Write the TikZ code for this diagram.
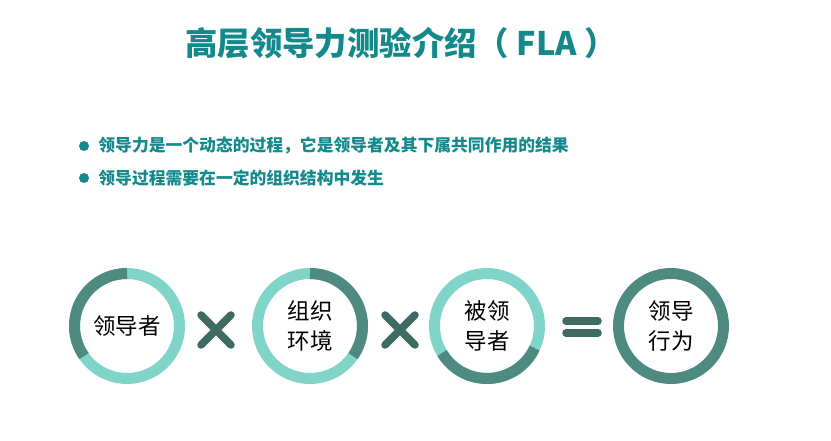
\documentclass[tikz,border=0pt]{standalone}
\usepackage{fontspec}
\setmainfont{Noto Sans CJK SC}
\usepackage{xcolor}
\usetikzlibrary{positioning}

\definecolor{titleteal}{HTML}{13898C}
\definecolor{ringlight}{HTML}{80D4C8}
\definecolor{ringdark}{HTML}{4E8A80}
\definecolor{markdark}{HTML}{3F6B62}

\begin{document}
\begin{tikzpicture}[
        x=1pt, y=1pt,
        title node/.style={font=\fontsize{32.4}{38}\selectfont\bfseries, text=titleteal, inner sep=0pt},
        point node/.style={font=\fontsize{16.8}{20}\selectfont\bfseries, text=titleteal, anchor=west, inner sep=0pt},
        dot/.style={circle, fill=titleteal, inner sep=0pt, minimum size=10},
        ring node/.style={circle, minimum size=94, inner sep=0pt, align=center,
                          font=\fontsize{22.5}{30}\selectfont},
        light arc/.style={draw=ringlight, line width=11},
        dark arc/.style={draw=ringdark, line width=11},
        op stroke/.style={draw=markdark, line width=7.5, line cap=round}
      ]
      \useasboundingbox (0,0) rectangle (831,441);

      % Title and points
      \node[title node] (title) at (401,398) {高层领导力测验介绍（ FLA ）};
      \node[dot] (b1) at (84,295) {};
      \node[dot] (b2) at (84,263) {};
      \node[point node, right=9pt of b1] (p1) {领导力是一个动态的过程，它是领导者及其下属共同作用的结果};
      \node[point node, right=9pt of b2] (p2) {领导过程需要在一定的组织结构中发生};

      % Nodes
      \node[ring node] (leader) at (127,115) {领导者};
      \node[ring node] (env) at (310,115) {组织\\环境};
      \node[ring node] (follower) at (487,115) {被领\\导者};
      \node[ring node] (behave) at (671,115) {领导\\行为};

      % Rings
      \draw[light arc] (leader) circle (52.5);
      \draw[dark arc] ([shift={(90:52.5)}]leader.center) arc (90:215:52.5);
      \draw[light arc] (env) circle (52.5);
      \draw[dark arc] ([shift={(-35:52.5)}]env.center) arc (-35:90:52.5);
      \draw[light arc] (follower) circle (52.5);
      \draw[dark arc] ([shift={(211:52.5)}]follower.center) arc (211:335:52.5);
      \draw[dark arc] (behave) circle (52.5);

      % Operators
      \coordinate (times1) at (216,111);
      \coordinate (times2) at (400,111);
      \coordinate (equals) at (582,114);
      \draw[op stroke] ([shift={(-15,-15)}]times1) -- ([shift={(15,15)}]times1);
      \draw[op stroke] ([shift={(-15,15)}]times1) -- ([shift={(15,-15)}]times1);
      \draw[op stroke] ([shift={(-15,-15)}]times2) -- ([shift={(15,15)}]times2);
      \draw[op stroke] ([shift={(-15,15)}]times2) -- ([shift={(15,-15)}]times2);
      \draw[op stroke] ([shift={(-16,6)}]equals) -- ([shift={(16,6)}]equals);
      \draw[op stroke] ([shift={(-16,-6)}]equals) -- ([shift={(16,-6)}]equals);
    \end{tikzpicture}
\end{document}
